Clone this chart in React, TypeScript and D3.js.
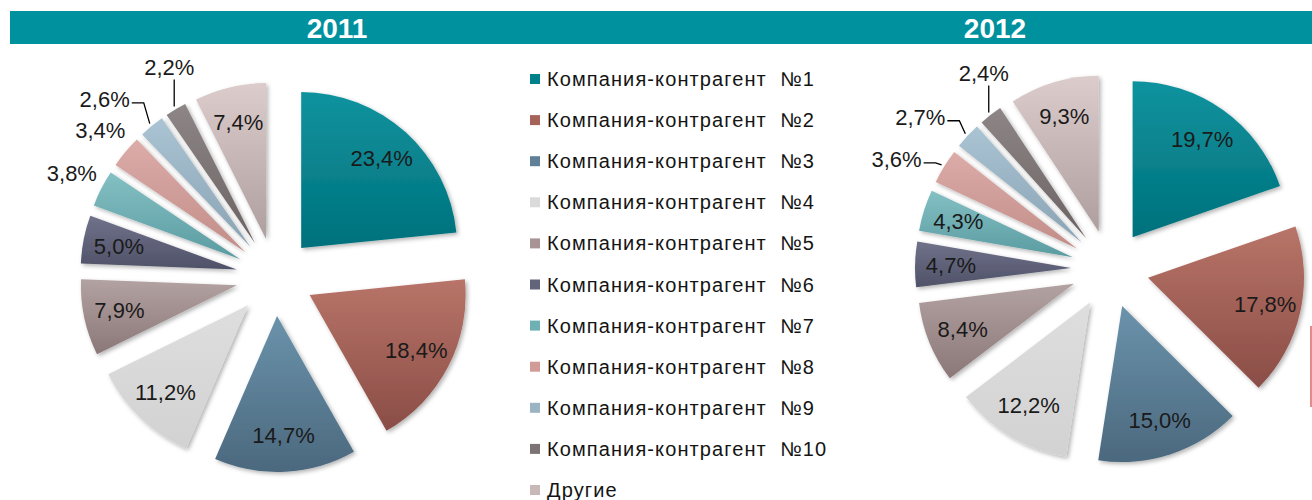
import React, { useEffect, useRef } from "react";
import * as d3 from "d3";

// Chart data
const years = ["2011", "2012"];
const categories = [
  "Компания-контрагент  №1",
  "Компания-контрагент  №2",
  "Компания-контрагент  №3",
  "Компания-контрагент  №4",
  "Компания-контрагент  №5",
  "Компания-контрагент  №6",
  "Компания-контрагент  №7",
  "Компания-контрагент  №8",
  "Компания-контрагент  №9",
  "Компания-контрагент  №10",
  "Другие",
];
const values2011 = [23.4, 18.4, 14.7, 11.2, 7.9, 5.0, 3.8, 3.4, 2.6, 2.2, 7.4];
const values2012 = [19.7, 17.8, 15.0, 12.2, 8.4, 4.7, 4.3, 3.6, 2.7, 2.4, 9.3];

// gradient colours per slice: [top, bottom]
const colors = [
  ["#0f939e", "#00717c"],
  ["#b87468", "#8a4d46"],
  ["#6a93ab", "#4b687e"],
  ["#dedede", "#d2d2d2"],
  ["#b3a2a2", "#8b7777"],
  ["#70728a", "#4f5268"],
  ["#84c0c4", "#5a9ca1"],
  ["#dcaca8", "#c28d89"],
  ["#abc4d4", "#8aa3b4"],
  ["#8e8686", "#6b6262"],
  ["#dccccc", "#ae9e9e"],
];
const legendColors = ["#00808a", "#a5635a", "#5f8097", "#dadada", "#a89494", "#62647a", "#6fb0b4", "#d19c98", "#9bb4c4", "#7c7474", "#c8b8b8"];

const FONT = "Liberation Sans, Arial, sans-serif";
const fmt = (v) => v.toFixed(1).replace(".", ",") + "%";

const App = () => {
  const svgRef = useRef(null);

  useEffect(() => {
    const svg = d3.select(svgRef.current);
    svg.selectAll("*").remove();

    const width = 1312;
    const r = 156;
    const explode = 39;

    const defs = svg.append("defs");
    colors.forEach((c, i) => {
      const g = defs
        .append("linearGradient")
        .attr("id", `grad${i}`)
        .attr("x1", 0)
        .attr("y1", 0)
        .attr("x2", 0)
        .attr("y2", 1);
      g.append("stop").attr("offset", "0%").attr("stop-color", c[0]);
      g.append("stop").attr("offset", "100%").attr("stop-color", c[1]);
    });
    defs
      .append("filter")
      .attr("id", "shadow")
      .attr("x", "-20%")
      .attr("y", "-20%")
      .attr("width", "140%")
      .attr("height", "140%")
      .append("feDropShadow")
      .attr("dx", 2)
      .attr("dy", 2)
      .attr("stdDeviation", 2)
      .attr("flood-color", "#000")
      .attr("flood-opacity", 0.3);

    // header band
    svg.append("rect").attr("x", 10).attr("y", 11).attr("width", width - 10).attr("height", 33).attr("fill", "#00919f");

    const charts = [
      { year: years[0], values: values2011, cx: 275, cy: 277, titleX: 337, outside: [6, 7], leaderLeft: [8], leaderUp: [9] },
      { year: years[1], values: values2012, cx: 1110, cy: 269, titleX: 995, outside: [], leaderLeft: [7, 8], leaderUp: [9] },
    ];

    const pie = d3.pie().sort(null).value((d) => d);
    const arc = d3.arc().innerRadius(0).outerRadius(r);

    charts.forEach((c) => {
      svg
        .append("text")
        .attr("x", c.titleX)
        .attr("y", 38)
        .attr("text-anchor", "middle")
        .attr("font-family", FONT)
        .attr("font-weight", "bold")
        .attr("font-size", 28)
        .attr("fill", "#fff")
        .text(c.year);

      const g = svg.append("g").attr("transform", `translate(${c.cx},${c.cy})`);
      const arcs = pie(c.values);

      arcs.forEach((a, i) => {
        const mid = (a.startAngle + a.endAngle) / 2;
        const dx = Math.sin(mid);
        const dy = -Math.cos(mid);
        const ax = explode * dx;
        const ay = explode * dy;

        g.append("path")
          .attr("d", arc(a))
          .attr("transform", `translate(${ax},${ay})`)
          .attr("fill", `url(#grad${i})`)
          .attr("filter", "url(#shadow)");

        const label = fmt(c.values[i]);
        const txt = (x, y, anchor) =>
          g
            .append("text")
            .attr("x", x)
            .attr("y", y)
            .attr("text-anchor", anchor)
            .attr("dominant-baseline", "central")
            .attr("font-family", FONT)
            .attr("font-size", 22)
            .attr("fill", "#1a1a1a")
            .text(label);

        if (c.outside.includes(i)) {
          txt(ax + (r + 33) * dx, ay + (r + 33) * dy, "middle");
        } else if (c.leaderUp.includes(i)) {
          const ex = ax + (r + 3) * dx;
          const ey = ay + (r + 3) * dy;
          g.append("path")
            .attr("d", `M${ex},${ey}V${ey - 27}`)
            .attr("stroke", "#000")
            .attr("stroke-width", 1.3)
            .attr("fill", "none");
          txt(ex - 5, ey - 39, "middle");
        } else if (c.leaderLeft.includes(i)) {
          const ex = ax + (r + 3) * dx;
          const ey = ay + (r + 3) * dy;
          const fromTop = 360 - (mid * 180) / Math.PI;
          const rise = Math.max(2, 60 - fromTop);
          const bx = ex - 6;
          const by = ey - rise;
          g.append("path")
            .attr("d", `M${ex},${ey}L${bx},${by}H${bx - 12}`)
            .attr("stroke", "#000")
            .attr("stroke-width", 1.3)
            .attr("fill", "none");
          txt(bx - 14, by - 3, "end");
        } else {
          txt(ax + 0.77 * r * dx, ay + 0.77 * r * dy, "middle");
        }
      });
    });

    // legend
    const legend = svg.append("g").attr("transform", "translate(530,79)");
    categories.forEach((name, i) => {
      const row = legend.append("g").attr("transform", `translate(0,${i * 41.1})`);
      row.append("rect").attr("x", 0).attr("y", -5).attr("width", 10).attr("height", 10).attr("fill", legendColors[i]);
      row
        .append("text")
        .attr("x", 17)
        .attr("y", 0)
        .attr("dominant-baseline", "central")
        .attr("font-family", FONT)
        .attr("font-size", 20)
        .attr("letter-spacing", 1.1)
        .attr("fill", "#141414")
        .style("white-space", "pre")
        .text(name);
    });

    // cropped edge mark at the right border
    svg.append("rect").attr("x", 1310).attr("y", 326).attr("width", 2).attr("height", 81).attr("fill", "#e58a8a");
  }, []);

  return (
    <svg
      ref={svgRef}
      width={1312}
      height={500}
      style={{ position: "absolute", left: 0, top: 0, background: "#fff" }}
    />
  );
};

export default App;
